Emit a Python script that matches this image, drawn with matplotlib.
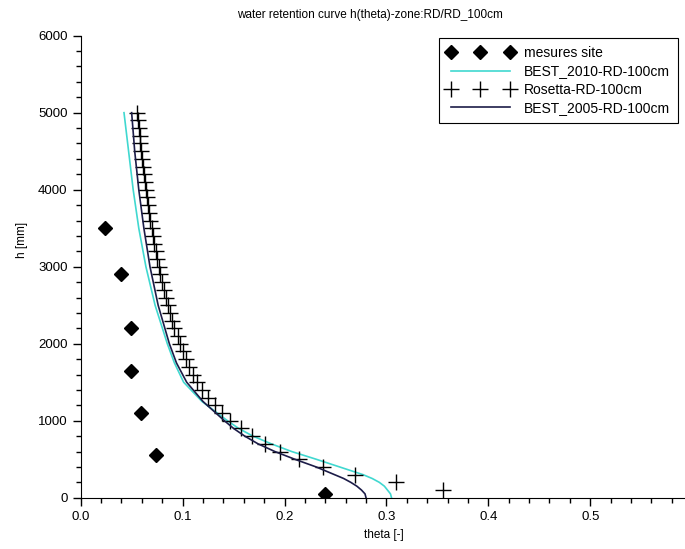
# Water retention curve plot

# Importing libraries
import matplotlib
matplotlib.use("Agg")
import matplotlib.pyplot as plt
from matplotlib.ticker import MultipleLocator

plt.rcParams['font.family'] = ['Liberation Sans', 'DejaVu Sans']

# Measured points (mesures site)
site_theta = [0.24, 0.074, 0.059, 0.049, 0.049, 0.040, 0.024]
site_h = [50, 550, 1100, 1650, 2200, 2900, 3500]

# BEST_2010 curve
best2010_h = [0, 50, 100, 150, 200, 250, 300, 400, 500, 600, 700, 800, 900, 1000,
              1250, 1500, 1750, 2000, 2500, 3000, 3500, 4000, 4500, 5000]
best2010_theta = [0.305, 0.304, 0.301, 0.298, 0.293, 0.286, 0.277, 0.254, 0.231, 0.207,
                  0.187, 0.169, 0.155, 0.144, 0.119, 0.101, 0.092, 0.085, 0.073, 0.064,
                  0.057, 0.0515, 0.047, 0.0425]

# Rosetta points
rosetta_h = [100, 200, 300, 400, 500, 600, 700, 800, 900, 1000,
             1100, 1200, 1300, 1400, 1500, 1600, 1700, 1800, 1900, 2000,
             2100, 2200, 2300, 2400, 2500, 2600, 2700, 2800, 2900, 3000,
             3100, 3200, 3300, 3400, 3500, 3600, 3700, 3800, 3900, 4000,
             4100, 4200, 4300, 4400, 4500, 4600, 4700, 4800, 4900, 5000]
rosetta_theta = [0.356, 0.309, 0.269, 0.238, 0.214, 0.196, 0.181, 0.168, 0.157, 0.147,
                 0.139, 0.132, 0.125, 0.119, 0.114, 0.110, 0.106, 0.103, 0.100, 0.097,
                 0.095, 0.092, 0.090, 0.088, 0.086, 0.084, 0.082, 0.080, 0.078, 0.0765,
                 0.075, 0.074, 0.072, 0.071, 0.070, 0.068, 0.067, 0.066, 0.065, 0.064,
                 0.063, 0.062, 0.061, 0.060, 0.059, 0.058, 0.058, 0.057, 0.056, 0.0555]

# BEST_2005 curve
best2005_h = [0, 50, 100, 150, 200, 250, 300, 400, 500, 600, 700, 800, 900, 1000,
              1250, 1500, 1750, 2000, 2500, 3000, 3500, 4000, 4500, 5000]
best2005_theta = [0.280, 0.279, 0.2755, 0.271, 0.265, 0.258, 0.249, 0.231, 0.210, 0.1905,
                  0.174, 0.161, 0.150, 0.141, 0.120, 0.104, 0.094, 0.087, 0.076, 0.068,
                  0.062, 0.057, 0.053, 0.050]

# Figure and axes
fig = plt.figure(figsize=(6.85, 5.49), dpi=100)
ax = fig.add_axes([0.1178, 0.0934, 0.8822, 0.8416])

ax.plot(site_theta, site_h, linestyle='none', marker='D', markersize=7,
        color='black', label='mesures site')
ax.plot(best2010_theta, best2010_h, color='#40d8d0', linewidth=1.2,
        label='BEST_2010-RD-100cm')
ax.plot(rosetta_theta, rosetta_h, linestyle='none', marker='+', markersize=11,
        markeredgewidth=1.0, color='black', label='Rosetta-RD-100cm')
ax.plot(best2005_theta, best2005_h, color='#1c1c48', linewidth=1.2,
        label='BEST_2005-RD-100cm')

# Axes limits and ticks
ax.set_xlim(0, 0.593)
ax.set_ylim(0, 6000)
ax.xaxis.set_major_locator(MultipleLocator(0.1))
ax.xaxis.set_minor_locator(MultipleLocator(0.02))
ax.yaxis.set_major_locator(MultipleLocator(1000))
ax.yaxis.set_minor_locator(MultipleLocator(200))
ax.xaxis.set_major_formatter(plt.FuncFormatter(lambda v, p: f"{v:.1f}"))
ax.tick_params(which='major', length=6, width=1.0, labelsize=9.5, direction='out')
ax.tick_params(which='minor', length=3.5, width=1.0, direction='out')

ax.spines['top'].set_visible(False)
ax.spines['right'].set_visible(False)

# Labels and title
fig.text(0.54, 0.972, 'water retention curve h(theta)-zone:RD/RD_100cm',
         ha='center', va='center', fontsize=8.5)
fig.text(384 / 685, 1 - 535 / 549, 'theta [-]', ha='center', va='center', fontsize=8.5)
fig.text(22 / 685, 1 - 240 / 549, 'h [mm]', ha='center', va='center',
         rotation=90, fontsize=8.5)

# Legend
leg = ax.legend(loc='upper right', bbox_to_anchor=(678 / 685, 1 - 38 / 549),
                bbox_transform=fig.transFigure, borderaxespad=0, numpoints=3,
                fontsize=10, handlelength=4.8, labelspacing=0.3, fancybox=False,
                framealpha=1, borderpad=0.6, handletextpad=0.7)
leg.get_frame().set_edgecolor('black')
leg.get_frame().set_linewidth(0.8)

fig.savefig('out.png', dpi=100)
